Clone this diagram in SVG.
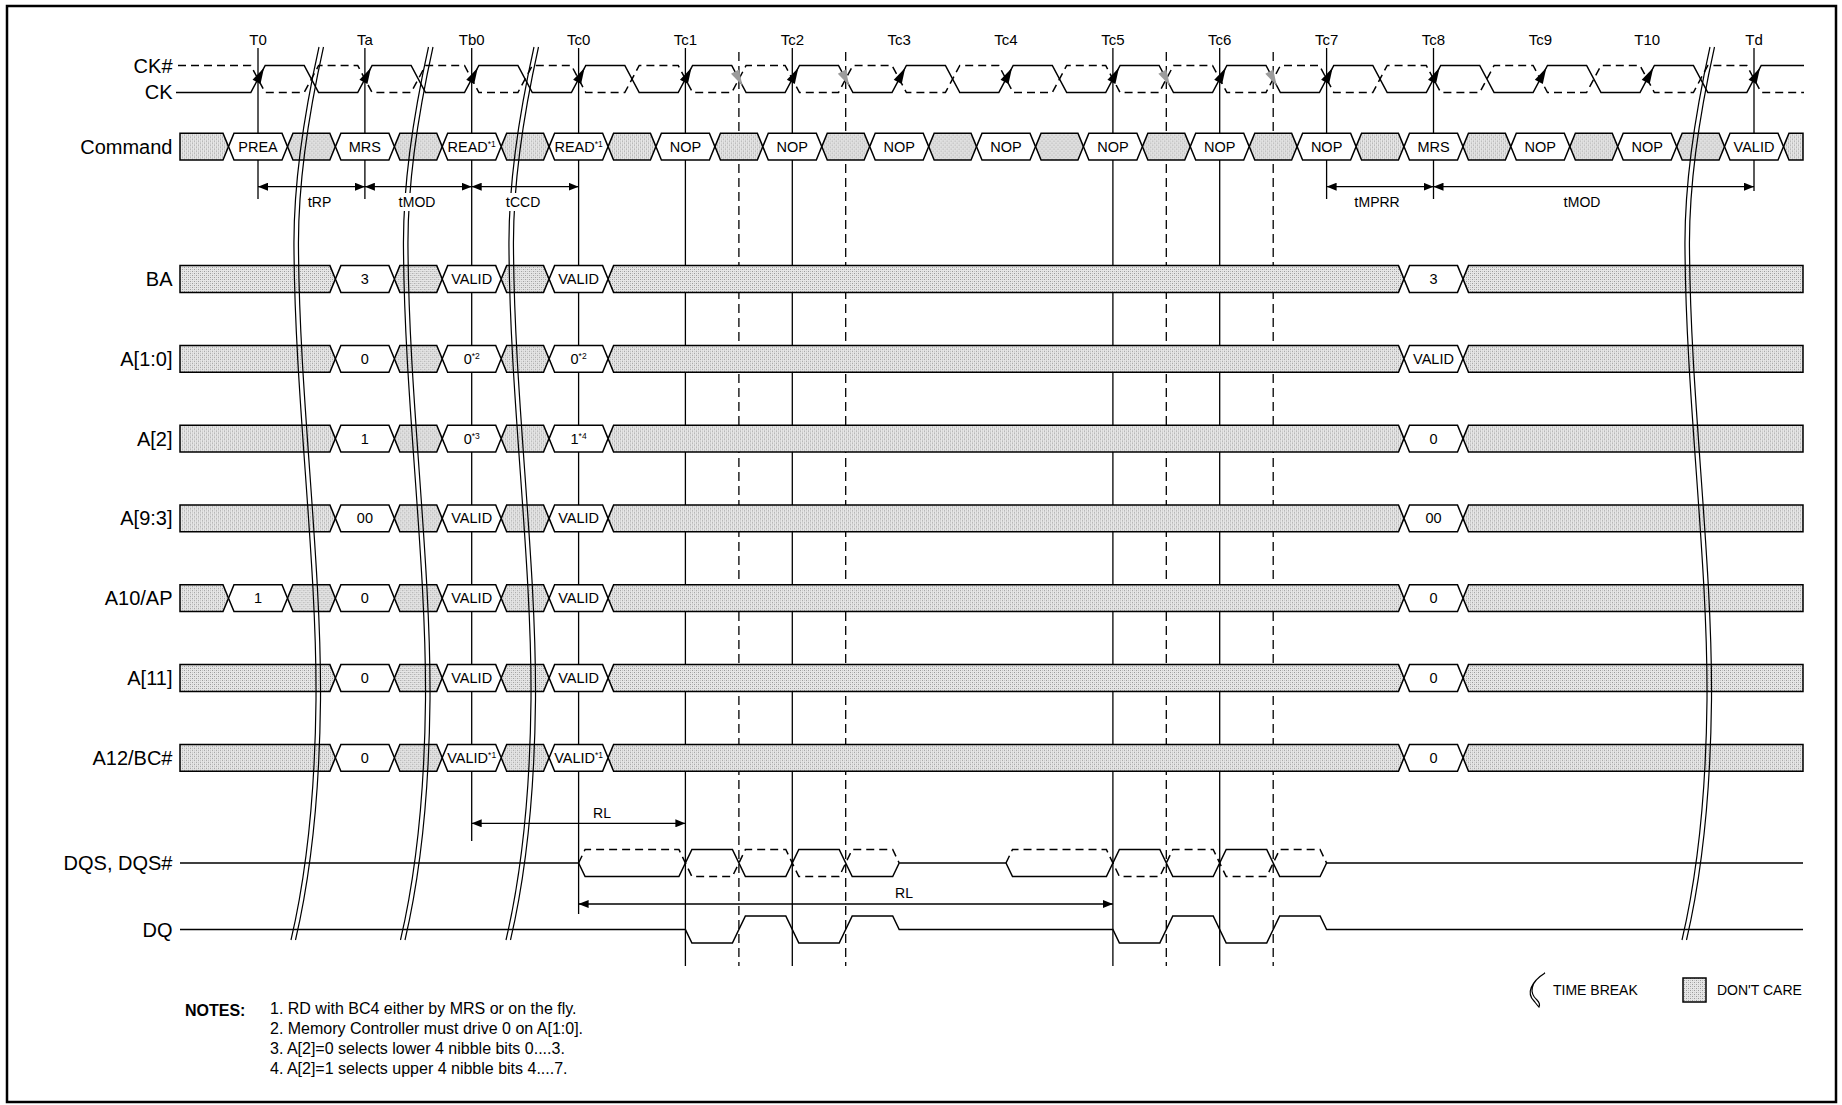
<svg xmlns="http://www.w3.org/2000/svg" xmlns:xlink="http://www.w3.org/1999/xlink" width="1842" height="1105" viewBox="0 0 1842 1105">
<style>
text{font-family:"Liberation Sans",Arial,sans-serif;fill:#000}
.lab{font-size:20px;text-anchor:end}
.tl{font-size:15px;text-anchor:middle}
.dl{font-size:14px;text-anchor:middle}
.ct{font-size:14.5px;text-anchor:middle}
.sup{font-size:8.5px}
.ln{stroke:#000;stroke-width:1.5;fill:none}
.dash{stroke-dasharray:8 5}
.vl{stroke:#000;stroke-width:1.3;fill:none}
.vd{stroke:#000;stroke-width:1.3;fill:none;stroke-dasharray:9 5}
.cw{fill:#fff;stroke:#000;stroke-width:1.5}
.cg{fill:url(#dc);stroke:#000;stroke-width:1.5}
.brk{stroke:#000;stroke-width:1.2;fill:none}
.dim{stroke:#000;stroke-width:1.3;fill:none}
.note{font-size:16px}
</style>
<defs>
<pattern id="dc" width="4" height="4" patternUnits="userSpaceOnUse"><rect width="4" height="4" fill="#e6e6e6"/><path d="M0,0h1v1h-1zM2,2h1v1h-1z" fill="#9a9a9a"/><path d="M2,0h1v1h-1zM0,2h1v1h-1z" fill="#c4c4c4"/></pattern>
<marker id="ah" viewBox="0 0 10 8" refX="10" refY="4" markerWidth="10" markerHeight="8" markerUnits="userSpaceOnUse" orient="auto-start-reverse"><path d="M0,0 L10,4 L0,8 z" fill="#000"/></marker>
<polygon id="cw" points="-29.5,0 -24,-13.4 24,-13.4 29.5,0 24,13.4 -24,13.4"/>
<polygon id="cg" points="-23.93,0 -18.43,-13.4 18.43,-13.4 23.93,0 18.43,13.4 -18.43,13.4"/>
<polygon id="gLong" points="608.1,0 613.6,-13.4 1398.5,-13.4 1404,0 1398.5,13.4 613.6,13.4"/>
<polygon id="gStartA" points="180,-13.4 329.9,-13.4 335.4,0 329.9,13.4 180,13.4"/>
<polygon id="gStartS" points="180,-13.4 223,-13.4 228.5,0 223,13.4 180,13.4"/>
<polygon id="gEndC" points="1783.5,0 1789,-13.4 1803,-13.4 1803,13.4 1789,13.4"/>
<polygon id="gEndR" points="1463,0 1468.5,-13.4 1803,-13.4 1803,13.4 1468.5,13.4"/>
<polygon id="arB" points="6.05,67.66 2.49,83.9 -5.45,79.66" fill="#000"/>
<polygon id="arG" points="3.6,85.75 0.04,69.51 -7.9,73.75" fill="#9c9c9c"/>
<path id="brk" d="M319,47 C305,110 293,180 294,250 C295,400 317,560 316,700 C315,800 305,880 291,940"/>
</defs>

<rect x="7" y="6" width="1829" height="1096" fill="#fff" stroke="#000" stroke-width="2.5"/>

<g id="clock-labels">
<text class="tl" x="258" y="45">T0</text>
<text class="tl" x="364.9" y="45">Ta</text>
<text class="tl" x="471.7" y="45">Tb0</text>
<text class="tl" x="578.6" y="45">Tc0</text>
<text class="tl" x="685.4" y="45">Tc1</text>
<text class="tl" x="792.3" y="45">Tc2</text>
<text class="tl" x="899.2" y="45">Tc3</text>
<text class="tl" x="1006" y="45">Tc4</text>
<text class="tl" x="1112.9" y="45">Tc5</text>
<text class="tl" x="1219.7" y="45">Tc6</text>
<text class="tl" x="1326.6" y="45">Tc7</text>
<text class="tl" x="1433.5" y="45">Tc8</text>
<text class="tl" x="1540.3" y="45">Tc9</text>
<text class="tl" x="1647.2" y="45">T10</text>
<text class="tl" x="1754" y="45">Td</text>
</g>

<g id="time-lines">
<line class="vl" x1="258" y1="48" x2="258" y2="199"/>
<line class="vl" x1="364.9" y1="48" x2="364.9" y2="199"/>
<line class="vl" x1="471.7" y1="48" x2="471.7" y2="841"/>
<line class="vl" x1="578.6" y1="48" x2="578.6" y2="914"/>
<line class="vl" x1="685.4" y1="48" x2="685.4" y2="966"/>
<line class="vl" x1="792.3" y1="48" x2="792.3" y2="966"/>
<line class="vl" x1="1112.9" y1="48" x2="1112.9" y2="966"/>
<line class="vl" x1="1219.7" y1="48" x2="1219.7" y2="966"/>
<line class="vl" x1="1326.6" y1="48" x2="1326.6" y2="199"/>
<line class="vl" x1="1433.5" y1="48" x2="1433.5" y2="199"/>
<line class="vl" x1="1754" y1="48" x2="1754" y2="191"/>
<line class="vd" x1="738.9" y1="52" x2="738.9" y2="966"/>
<line class="vd" x1="845.7" y1="52" x2="845.7" y2="966"/>
<line class="vd" x1="1166.3" y1="52" x2="1166.3" y2="966"/>
<line class="vd" x1="1273.2" y1="52" x2="1273.2" y2="966"/>
</g>

<g id="clock">
<text class="lab" x="172.5" y="73">CK#</text>
<text class="lab" x="172.5" y="99">CK</text>
<path class="ln" d="M176,92.5 L250.8,92.5 L265.2,65.5 L304.2,65.5 L318.6,92.5 L357.7,92.5 L372.1,65.5 L411.1,65.5 L425.5,92.5 L464.5,92.5 L478.9,65.5 L517.9,65.5 L532.3,92.5 L571.4,92.5 L585.8,65.5 L624.8,65.5 L639.2,92.5 L678.2,92.5 L692.6,65.5 L731.7,65.5 L746.1,92.5 L785.1,92.5 L799.5,65.5 L838.5,65.5 L852.9,92.5 L892,92.5 L906.4,65.5 L945.4,65.5 L959.8,92.5 L998.8,92.5 L1013.2,65.5 L1052.3,65.5 L1066.7,92.5 L1105.7,92.5 L1120.1,65.5 L1159.1,65.5 L1173.5,92.5 L1212.5,92.5 L1226.9,65.5 L1266,65.5 L1280.4,92.5 L1319.4,92.5 L1333.8,65.5 L1372.8,65.5 L1387.2,92.5 L1426.3,92.5 L1440.7,65.5 L1479.7,65.5 L1494.1,92.5 L1533.1,92.5 L1547.5,65.5 L1586.6,65.5 L1601,92.5 L1640,92.5 L1654.4,65.5 L1693.4,65.5 L1707.8,92.5 L1746.8,92.5 L1761.2,65.5 L1804,65.5"/>
<path class="ln dash" d="M178,65.5 L250.8,65.5 L265.2,92.5 L304.2,92.5 L318.6,65.5 L357.7,65.5 L372.1,92.5 L411.1,92.5 L425.5,65.5 L464.5,65.5 L478.9,92.5 L517.9,92.5 L532.3,65.5 L571.4,65.5 L585.8,92.5 L624.8,92.5 L639.2,65.5 L678.2,65.5 L692.6,92.5 L731.7,92.5 L746.1,65.5 L785.1,65.5 L799.5,92.5 L838.5,92.5 L852.9,65.5 L892,65.5 L906.4,92.5 L945.4,92.5 L959.8,65.5 L998.8,65.5 L1013.2,92.5 L1052.3,92.5 L1066.7,65.5 L1105.7,65.5 L1120.1,92.5 L1159.1,92.5 L1173.5,65.5 L1212.5,65.5 L1226.9,92.5 L1266,92.5 L1280.4,65.5 L1319.4,65.5 L1333.8,92.5 L1372.8,92.5 L1387.2,65.5 L1426.3,65.5 L1440.7,92.5 L1479.7,92.5 L1494.1,65.5 L1533.1,65.5 L1547.5,92.5 L1586.6,92.5 L1601,65.5 L1640,65.5 L1654.4,92.5 L1693.4,92.5 L1707.8,65.5 L1746.8,65.5 L1761.2,92.5 L1804,92.5"/>
<use xlink:href="#arB" href="#arB" x="258"/>
<use xlink:href="#arB" href="#arB" x="364.9"/>
<use xlink:href="#arB" href="#arB" x="471.7"/>
<use xlink:href="#arB" href="#arB" x="578.6"/>
<use xlink:href="#arB" href="#arB" x="685.4"/>
<use xlink:href="#arB" href="#arB" x="792.3"/>
<use xlink:href="#arB" href="#arB" x="899.2"/>
<use xlink:href="#arB" href="#arB" x="1006"/>
<use xlink:href="#arB" href="#arB" x="1112.9"/>
<use xlink:href="#arB" href="#arB" x="1219.7"/>
<use xlink:href="#arB" href="#arB" x="1326.6"/>
<use xlink:href="#arB" href="#arB" x="1433.5"/>
<use xlink:href="#arB" href="#arB" x="1540.3"/>
<use xlink:href="#arB" href="#arB" x="1647.2"/>
<use xlink:href="#arB" href="#arB" x="1754"/>
<use xlink:href="#arG" href="#arG" x="738.9"/>
<use xlink:href="#arG" href="#arG" x="845.7"/>
<use xlink:href="#arG" href="#arG" x="1166.3"/>
<use xlink:href="#arG" href="#arG" x="1273.2"/>
</g>

<g id="command">
<text class="lab" x="172.5" y="153.5">Command</text>
<g transform="translate(0,146.6)">
<use xlink:href="#gStartS" href="#gStartS" class="cg"/>
<use xlink:href="#cg" href="#cg" class="cg" x="311.4"/>
<use xlink:href="#cg" href="#cg" class="cg" x="418.3"/>
<use xlink:href="#cg" href="#cg" class="cg" x="525.1"/>
<use xlink:href="#cg" href="#cg" class="cg" x="632"/>
<use xlink:href="#cg" href="#cg" class="cg" x="738.9"/>
<use xlink:href="#cg" href="#cg" class="cg" x="845.7"/>
<use xlink:href="#cg" href="#cg" class="cg" x="952.6"/>
<use xlink:href="#cg" href="#cg" class="cg" x="1059.5"/>
<use xlink:href="#cg" href="#cg" class="cg" x="1166.3"/>
<use xlink:href="#cg" href="#cg" class="cg" x="1273.2"/>
<use xlink:href="#cg" href="#cg" class="cg" x="1380"/>
<use xlink:href="#cg" href="#cg" class="cg" x="1486.9"/>
<use xlink:href="#cg" href="#cg" class="cg" x="1593.8"/>
<use xlink:href="#cg" href="#cg" class="cg" x="1700.6"/>
<use xlink:href="#gEndC" href="#gEndC" class="cg"/>
<use xlink:href="#cw" href="#cw" class="cw" x="258"/>
<use xlink:href="#cw" href="#cw" class="cw" x="364.9"/>
<use xlink:href="#cw" href="#cw" class="cw" x="471.7"/>
<use xlink:href="#cw" href="#cw" class="cw" x="578.6"/>
<use xlink:href="#cw" href="#cw" class="cw" x="685.4"/>
<use xlink:href="#cw" href="#cw" class="cw" x="792.3"/>
<use xlink:href="#cw" href="#cw" class="cw" x="899.2"/>
<use xlink:href="#cw" href="#cw" class="cw" x="1006"/>
<use xlink:href="#cw" href="#cw" class="cw" x="1112.9"/>
<use xlink:href="#cw" href="#cw" class="cw" x="1219.7"/>
<use xlink:href="#cw" href="#cw" class="cw" x="1326.6"/>
<use xlink:href="#cw" href="#cw" class="cw" x="1433.5"/>
<use xlink:href="#cw" href="#cw" class="cw" x="1540.3"/>
<use xlink:href="#cw" href="#cw" class="cw" x="1647.2"/>
<use xlink:href="#cw" href="#cw" class="cw" x="1754"/>
<text class="ct" x="258" y="5">PREA</text>
<text class="ct" x="364.9" y="5">MRS</text>
<text class="ct" x="471.7" y="5">READ<tspan class="sup" dy="-5">*1</tspan></text>
<text class="ct" x="578.6" y="5">READ<tspan class="sup" dy="-5">*1</tspan></text>
<text class="ct" x="685.4" y="5">NOP</text>
<text class="ct" x="792.3" y="5">NOP</text>
<text class="ct" x="899.2" y="5">NOP</text>
<text class="ct" x="1006" y="5">NOP</text>
<text class="ct" x="1112.9" y="5">NOP</text>
<text class="ct" x="1219.7" y="5">NOP</text>
<text class="ct" x="1326.6" y="5">NOP</text>
<text class="ct" x="1433.5" y="5">MRS</text>
<text class="ct" x="1540.3" y="5">NOP</text>
<text class="ct" x="1647.2" y="5">NOP</text>
<text class="ct" x="1754" y="5">VALID</text>
</g>
</g>

<g id="ba">
<text class="lab" x="172.5" y="286">BA</text>
<g transform="translate(0,279)">
<use xlink:href="#gStartA" href="#gStartA" class="cg"/>
<use xlink:href="#cg" href="#cg" class="cg" x="418.3"/>
<use xlink:href="#cg" href="#cg" class="cg" x="525.1"/>
<use xlink:href="#gLong" href="#gLong" class="cg"/>
<use xlink:href="#gEndR" href="#gEndR" class="cg"/>
<use xlink:href="#cw" href="#cw" class="cw" x="364.9"/>
<use xlink:href="#cw" href="#cw" class="cw" x="471.7"/>
<use xlink:href="#cw" href="#cw" class="cw" x="578.6"/>
<use xlink:href="#cw" href="#cw" class="cw" x="1433.5"/>
<text class="ct" x="364.9" y="5">3</text>
<text class="ct" x="471.7" y="5">VALID</text>
<text class="ct" x="578.6" y="5">VALID</text>
<text class="ct" x="1433.5" y="5">3</text>
</g>
</g>

<g id="a1-0">
<text class="lab" x="172.5" y="365.8">A[1:0]</text>
<g transform="translate(0,358.8)">
<use xlink:href="#gStartA" href="#gStartA" class="cg"/>
<use xlink:href="#cg" href="#cg" class="cg" x="418.3"/>
<use xlink:href="#cg" href="#cg" class="cg" x="525.1"/>
<use xlink:href="#gLong" href="#gLong" class="cg"/>
<use xlink:href="#gEndR" href="#gEndR" class="cg"/>
<use xlink:href="#cw" href="#cw" class="cw" x="364.9"/>
<use xlink:href="#cw" href="#cw" class="cw" x="471.7"/>
<use xlink:href="#cw" href="#cw" class="cw" x="578.6"/>
<use xlink:href="#cw" href="#cw" class="cw" x="1433.5"/>
<text class="ct" x="364.9" y="5">0</text>
<text class="ct" x="471.7" y="5">0<tspan class="sup" dy="-5">*2</tspan></text>
<text class="ct" x="578.6" y="5">0<tspan class="sup" dy="-5">*2</tspan></text>
<text class="ct" x="1433.5" y="5">VALID</text>
</g>
</g>

<g id="a2">
<text class="lab" x="172.5" y="445.6">A[2]</text>
<g transform="translate(0,438.6)">
<use xlink:href="#gStartA" href="#gStartA" class="cg"/>
<use xlink:href="#cg" href="#cg" class="cg" x="418.3"/>
<use xlink:href="#cg" href="#cg" class="cg" x="525.1"/>
<use xlink:href="#gLong" href="#gLong" class="cg"/>
<use xlink:href="#gEndR" href="#gEndR" class="cg"/>
<use xlink:href="#cw" href="#cw" class="cw" x="364.9"/>
<use xlink:href="#cw" href="#cw" class="cw" x="471.7"/>
<use xlink:href="#cw" href="#cw" class="cw" x="578.6"/>
<use xlink:href="#cw" href="#cw" class="cw" x="1433.5"/>
<text class="ct" x="364.9" y="5">1</text>
<text class="ct" x="471.7" y="5">0<tspan class="sup" dy="-5">*3</tspan></text>
<text class="ct" x="578.6" y="5">1<tspan class="sup" dy="-5">*4</tspan></text>
<text class="ct" x="1433.5" y="5">0</text>
</g>
</g>

<g id="a9-3">
<text class="lab" x="172.5" y="525.4">A[9:3]</text>
<g transform="translate(0,518.4)">
<use xlink:href="#gStartA" href="#gStartA" class="cg"/>
<use xlink:href="#cg" href="#cg" class="cg" x="418.3"/>
<use xlink:href="#cg" href="#cg" class="cg" x="525.1"/>
<use xlink:href="#gLong" href="#gLong" class="cg"/>
<use xlink:href="#gEndR" href="#gEndR" class="cg"/>
<use xlink:href="#cw" href="#cw" class="cw" x="364.9"/>
<use xlink:href="#cw" href="#cw" class="cw" x="471.7"/>
<use xlink:href="#cw" href="#cw" class="cw" x="578.6"/>
<use xlink:href="#cw" href="#cw" class="cw" x="1433.5"/>
<text class="ct" x="364.9" y="5">00</text>
<text class="ct" x="471.7" y="5">VALID</text>
<text class="ct" x="578.6" y="5">VALID</text>
<text class="ct" x="1433.5" y="5">00</text>
</g>
</g>

<g id="a10-ap">
<text class="lab" x="172.5" y="605.2">A10/AP</text>
<g transform="translate(0,598.2)">
<use xlink:href="#gStartS" href="#gStartS" class="cg"/>
<use xlink:href="#cg" href="#cg" class="cg" x="311.4"/>
<use xlink:href="#cg" href="#cg" class="cg" x="418.3"/>
<use xlink:href="#cg" href="#cg" class="cg" x="525.1"/>
<use xlink:href="#gLong" href="#gLong" class="cg"/>
<use xlink:href="#gEndR" href="#gEndR" class="cg"/>
<use xlink:href="#cw" href="#cw" class="cw" x="258"/>
<use xlink:href="#cw" href="#cw" class="cw" x="364.9"/>
<use xlink:href="#cw" href="#cw" class="cw" x="471.7"/>
<use xlink:href="#cw" href="#cw" class="cw" x="578.6"/>
<use xlink:href="#cw" href="#cw" class="cw" x="1433.5"/>
<text class="ct" x="258" y="5">1</text>
<text class="ct" x="364.9" y="5">0</text>
<text class="ct" x="471.7" y="5">VALID</text>
<text class="ct" x="578.6" y="5">VALID</text>
<text class="ct" x="1433.5" y="5">0</text>
</g>
</g>

<g id="a11">
<text class="lab" x="172.5" y="685">A[11]</text>
<g transform="translate(0,678)">
<use xlink:href="#gStartA" href="#gStartA" class="cg"/>
<use xlink:href="#cg" href="#cg" class="cg" x="418.3"/>
<use xlink:href="#cg" href="#cg" class="cg" x="525.1"/>
<use xlink:href="#gLong" href="#gLong" class="cg"/>
<use xlink:href="#gEndR" href="#gEndR" class="cg"/>
<use xlink:href="#cw" href="#cw" class="cw" x="364.9"/>
<use xlink:href="#cw" href="#cw" class="cw" x="471.7"/>
<use xlink:href="#cw" href="#cw" class="cw" x="578.6"/>
<use xlink:href="#cw" href="#cw" class="cw" x="1433.5"/>
<text class="ct" x="364.9" y="5">0</text>
<text class="ct" x="471.7" y="5">VALID</text>
<text class="ct" x="578.6" y="5">VALID</text>
<text class="ct" x="1433.5" y="5">0</text>
</g>
</g>

<g id="a12-bc">
<text class="lab" x="172.5" y="764.8">A12/BC#</text>
<g transform="translate(0,757.8)">
<use xlink:href="#gStartA" href="#gStartA" class="cg"/>
<use xlink:href="#cg" href="#cg" class="cg" x="418.3"/>
<use xlink:href="#cg" href="#cg" class="cg" x="525.1"/>
<use xlink:href="#gLong" href="#gLong" class="cg"/>
<use xlink:href="#gEndR" href="#gEndR" class="cg"/>
<use xlink:href="#cw" href="#cw" class="cw" x="364.9"/>
<use xlink:href="#cw" href="#cw" class="cw" x="471.7"/>
<use xlink:href="#cw" href="#cw" class="cw" x="578.6"/>
<use xlink:href="#cw" href="#cw" class="cw" x="1433.5"/>
<text class="ct" x="364.9" y="5">0</text>
<text class="ct" x="471.7" y="5" font-size="13.5">VALID<tspan class="sup" dy="-5">*1</tspan></text>
<text class="ct" x="578.6" y="5" font-size="13.5">VALID<tspan class="sup" dy="-5">*1</tspan></text>
<text class="ct" x="1433.5" y="5">0</text>
</g>
</g>

<g id="dqs">
<text class="lab" x="172.5" y="870">DQS, DQS#</text>
<path class="ln" d="M180,863 L578.6,863 M899.2,863 L1006,863 M1326.6,863 L1803,863"/>
<path class="ln" d="M578.6,863 L585.1,876.5 L678.9,876.5 L691.9,849.5 L732.4,849.5 L745.4,876.5 L785.8,876.5 L798.8,849.5 L839.2,849.5 L852.2,876.5 L892.7,876.5 L899.2,863"/>
<path class="ln dash" d="M578.6,863 L585.1,849.5 L678.9,849.5 L691.9,876.5 L732.4,876.5 L745.4,849.5 L785.8,849.5 L798.8,876.5 L839.2,876.5 L852.2,849.5 L892.7,849.5 L899.2,863"/>
<path class="ln" d="M1006,863 L1012.5,876.5 L1106.4,876.5 L1119.4,849.5 L1159.8,849.5 L1172.8,876.5 L1213.2,876.5 L1226.2,849.5 L1266.7,849.5 L1279.7,876.5 L1320.1,876.5 L1326.6,863"/>
<path class="ln dash" d="M1006,863 L1012.5,849.5 L1106.4,849.5 L1119.4,876.5 L1159.8,876.5 L1172.8,849.5 L1213.2,849.5 L1226.2,876.5 L1266.7,876.5 L1279.7,849.5 L1320.1,849.5 L1326.6,863"/>
</g>

<g id="dq">
<text class="lab" x="172.5" y="936.5">DQ</text>
<path class="ln" d="M180,929.5 L685.4,929.5 L691.9,943 L732.4,943 L745.4,916 L785.8,916 L798.8,943 L839.2,943 L852.2,916 L892.7,916 L899.2,929.5 L1112.9,929.5 L1119.4,943 L1159.8,943 L1172.8,916 L1213.2,916 L1226.2,943 L1266.7,943 L1279.7,916 L1320.1,916 L1326.6,929.5 L1803,929.5"/>
</g>

<g id="connectors">
<line class="dim" x1="258" y1="186.7" x2="364.9" y2="186.7" marker-start="url(#ah)" marker-end="url(#ah)"/>
<line class="dim" x1="364.9" y1="186.7" x2="471.7" y2="186.7" marker-start="url(#ah)" marker-end="url(#ah)"/>
<line class="dim" x1="471.7" y1="186.7" x2="578.6" y2="186.7" marker-start="url(#ah)" marker-end="url(#ah)"/>
<line class="dim" x1="1326.6" y1="186.7" x2="1433.5" y2="186.7" marker-start="url(#ah)" marker-end="url(#ah)"/>
<line class="dim" x1="1433.5" y1="186.7" x2="1754" y2="186.7" marker-start="url(#ah)" marker-end="url(#ah)"/>
<line class="dim" x1="471.7" y1="823.3" x2="685.4" y2="823.3" marker-start="url(#ah)" marker-end="url(#ah)"/>
<line class="dim" x1="578.6" y1="904" x2="1112.9" y2="904" marker-start="url(#ah)" marker-end="url(#ah)"/>
</g>

<g id="time-breaks">
<use xlink:href="#brk" href="#brk" class="brk"/>
<use xlink:href="#brk" href="#brk" class="brk" x="4.5"/>
<use xlink:href="#brk" href="#brk" class="brk" x="109.5"/>
<use xlink:href="#brk" href="#brk" class="brk" x="114"/>
<use xlink:href="#brk" href="#brk" class="brk" x="215"/>
<use xlink:href="#brk" href="#brk" class="brk" x="219.5"/>
<use xlink:href="#brk" href="#brk" class="brk" x="1391"/>
<use xlink:href="#brk" href="#brk" class="brk" x="1395.5"/>
</g>

<g id="timing-labels">
<text class="dl" x="319.5" y="207"><tspan font-size="15">t</tspan>RP</text>
<rect x="396" y="193" width="42" height="18" fill="#fff"/>
<text class="dl" x="417" y="207"><tspan font-size="15">t</tspan>MOD</text>
<rect x="502" y="193" width="42" height="18" fill="#fff"/>
<text class="dl" x="523" y="207"><tspan font-size="15">t</tspan>CCD</text>
<text class="dl" x="1377" y="207"><tspan font-size="15">t</tspan>MPRR</text>
<text class="dl" x="1582" y="207"><tspan font-size="15">t</tspan>MOD</text>
<text class="dl" x="602" y="818">RL</text>
<text class="dl" x="904" y="898">RL</text>
</g>

<g id="notes">
<text class="note" x="185" y="1015.5" font-weight="bold">NOTES:</text>
<text class="note" x="270" y="1014">1. RD with BC4 either by MRS or on the fly.</text>
<text class="note" x="270" y="1034">2. Memory Controller must drive 0 on A[1:0].</text>
<text class="note" x="270" y="1054">3. A[2]=0 selects lower 4 nibble bits 0....3.</text>
<text class="note" x="270" y="1074">4. A[2]=1 selects upper 4 nibble bits 4....7.</text>
</g>

<g id="legend">
<path d="M1545,973 C1530,982 1529,993 1537,1000 C1540,1003 1540,1005 1539,1007 C1536,1004 1535,1002 1534,1001 C1526,993 1531,982 1545,973 Z" fill="#fff" stroke="#000" stroke-width="1.2"/>
<text x="1553" y="995" font-size="14">TIME BREAK</text>
<rect x="1683" y="978" width="23" height="24" fill="url(#dc)" stroke="#000" stroke-width="1.5"/>
<text x="1717" y="995" font-size="14">DON'T CARE</text>
</g>
</svg>
